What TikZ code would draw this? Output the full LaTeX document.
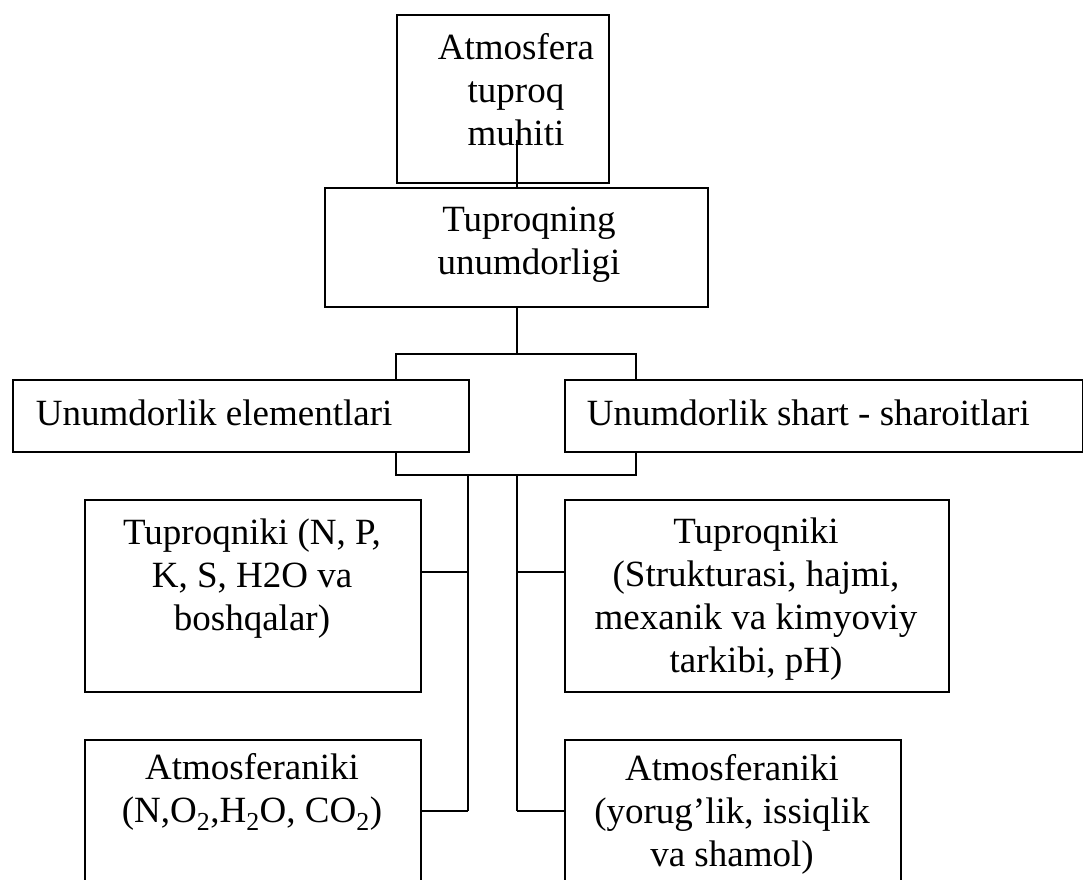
\documentclass[tikz,border=0pt]{standalone}
\usepackage{fontspec}
\setmainfont{Liberation Serif}
\usetikzlibrary{positioning}

\begin{document}
\begin{tikzpicture}[x=1pt, y=-1pt, line width=1.7pt,
  box/.style = {draw, inner sep=0pt, anchor=north west},
  txt/.style = {inner sep=0pt, align=center, anchor=base, font=\fontsize{37}{43}\selectfont}]
	\clip (0,0) rectangle (1083,879);
	% boxes
	\node[box, minimum width=212pt, minimum height=168pt] (atm) at (396,14) {};
	\node[box, minimum width=383pt, minimum height=119pt] (tuq) at (324,187) {};
	\node[box, minimum width=456pt, minimum height=72pt] (elem) at (12,379) {};
	\node[box, minimum width=518pt, minimum height=72pt] (shart) at (564,379) {};
	\node[box, minimum width=336pt, minimum height=192pt] (tupel) at (84,499) {};
	\node[box, minimum width=384pt, minimum height=192pt] (tupsh) at (564,499) {};
	\node[box, minimum width=336pt, minimum height=192pt] (atmel) at (84,739) {};
	\node[box, minimum width=336pt, minimum height=192pt] (atmsh) at (564,739) {};
	% texts (placed at the baseline of their last line)
	\node[txt] (atm-t) at (516,145) {Atmosfera\\tuproq\\muhiti};
	\node[txt] (tuq-t) at (529,274) {Tuproqning\\unumdorligi};
	\node[txt, anchor=base west] (elem-t) at (35,425) {Unumdorlik elementlari};
	\node[txt, anchor=base west] (shart-t) at (586,425) {Unumdorlik shart - sharoitlari};
	\node[txt] (tupel-t) at (252,630) {Tuproqniki (N, P,\\K, S, H2O va\\boshqalar)};
	\node[txt] (tupsh-t) at (756,672) {Tuproqniki\\(Strukturasi, hajmi,\\mexanik va kimyoviy\\tarkibi, pH)};
	\node[txt] (atmel-t) at (252,822) {Atmosferaniki\\(N,O\textsubscript{2},H\textsubscript{2}O, CO\textsubscript{2})};
	\node[txt] (atmsh-t) at (732,866) {Atmosferaniki\\(yorug’lik, issiqlik\\va shamol)};
	% connectors
	\coordinate (top) at (517,140);
	\coordinate (fork) at (517,354);
	\coordinate (fl) at (396,354);
	\coordinate (fr) at (636,354);
	\coordinate (jl) at (396,475);
	\coordinate (jr) at (636,475);
	\coordinate (ll) at (468,475);
	\coordinate (lr) at (517,475);
	\coordinate (l1) at (468,572);
	\coordinate (r1) at (517,572);
	\coordinate (l2) at (468,811);
	\coordinate (r2) at (517,811);
	\draw (top) -- (top |- tuq.north);
	\draw (fork |- tuq.south) -- (fork);
	\draw (fl |- elem.north) -- (fl) -- (fr) -- (fr |- shart.north);
	\draw (jl |- elem.south) -- (jl) -- (jr) -- (jr |- shart.south);
	\draw (ll) -- (l2);
	\draw (lr) -- (r2);
	\draw (tupel.east |- l1) -- (l1);
	\draw (r1) -- (r1 -| tupsh.west);
	\draw (atmel.east |- l2) -- (l2);
	\draw (r2) -- (r2 -| atmsh.west);
\end{tikzpicture}
\end{document}
